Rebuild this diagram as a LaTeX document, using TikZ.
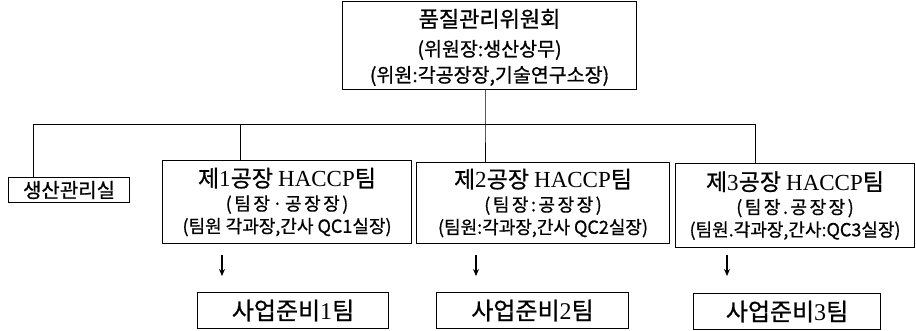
\documentclass[tikz,border=0pt]{standalone}
\usepackage{fontspec}
\setmainfont{Liberation Serif}
\newfontfamily\kr{Noto Sans CJK KR}[FakeBold=0.8]
\newfontfamily\lat{Liberation Serif}
\usetikzlibrary{arrows.meta}
\newcommand{\fsA}{\fontsize{22}{28}\selectfont}
\newcommand{\fsC}{\fontsize{23}{27}\selectfont}
\newcommand{\wide}{\addfontfeature{LetterSpace=14}}
\tikzset{
  box/.style={draw, line width=1.1pt, inner sep=0pt, align=center, anchor=north west},
  topfont/.style={font=\kr\fontsize{19.5}{28}\selectfont},
  teamfont/.style={font=\kr\fontsize{18}{22.5}\selectfont},
  prepfont/.style={font=\kr\fontsize{24}{26}\selectfont},
  conn/.style={line width=1pt},
  arr/.style={line width=1.1pt, -{Stealth[length=7pt,width=6pt]}}
}
\begin{document}
\begin{tikzpicture}[x=1pt,y=-1pt]
\useasboundingbox (0,0) rectangle (916,330);
% top committee
\node[box, topfont, minimum width=294pt, minimum height=88pt, text depth=0pt] (top) at (342,1)
  {{\fsA 품질관리위원회}\\[1pt](위원장:생산상무)\\[-2pt](위원:각공장장,기술연구소장)};
% production office
\node[box, font=\kr\fontsize{20}{22}\selectfont, minimum width=121pt, minimum height=25pt] (sk) at (8,177) {생산관리실};
% factory teams
\node[box, teamfont, minimum width=249pt, minimum height=83pt] (f1) at (162,160)
  {{\fsC 제{\lat 1}공장 {\lat HACCP}팀}\\[1pt]{\wide (팀장·공장장)}\\(팀원 각과장,간사 QC1실장)};
\node[box, teamfont, minimum width=253pt, minimum height=81pt] (f2) at (416,162)
  {{\fsC 제{\lat 2}공장 {\lat HACCP}팀}\\[1pt]{\wide (팀장:공장장)}\\(팀원:각과장,간사 QC2실장)};
\node[box, teamfont, minimum width=239pt, minimum height=84pt] (f3) at (675,163)
  {{\fsC 제{\lat 3}공장 {\lat HACCP}팀}\\[1pt]{\wide (팀장.공장장)}\\(팀원.각과장,간사:QC3실장)};
% business prep teams
\node[box, prepfont, minimum width=191pt, minimum height=36pt] (b1) at (197,292) {사업준비{\lat 1}팀};
\node[box, prepfont, minimum width=192pt, minimum height=36pt] (b2) at (436,292) {사업준비{\lat 2}팀};
\node[box, prepfont, minimum width=187pt, minimum height=36pt] (b3) at (693,293) {사업준비{\lat 3}팀};
% connectors
\coordinate (hl) at (33,124);
\coordinate (h1) at (240,124);
\coordinate (hc) at (485,124);
\coordinate (hr) at (755,124);
\draw[conn] (hc |- top.south) -- (hc) -- (hc |- f2.north);
\draw[conn] (hl |- sk.north) -- (hl) -- (hr) -- (hr |- f3.north);
\draw[conn] (h1) -- (h1 |- f1.north);
% arrows
\coordinate (a1s) at (222,255); \coordinate (a1e) at (222,276);
\coordinate (a2s) at (476,255); \coordinate (a2e) at (476,276);
\coordinate (a3s) at (727,255); \coordinate (a3e) at (727,276);
\draw[arr] (a1s) -- (a1e);
\draw[arr] (a2s) -- (a2e);
\draw[arr] (a3s) -- (a3e);
\end{tikzpicture}
\end{document}
